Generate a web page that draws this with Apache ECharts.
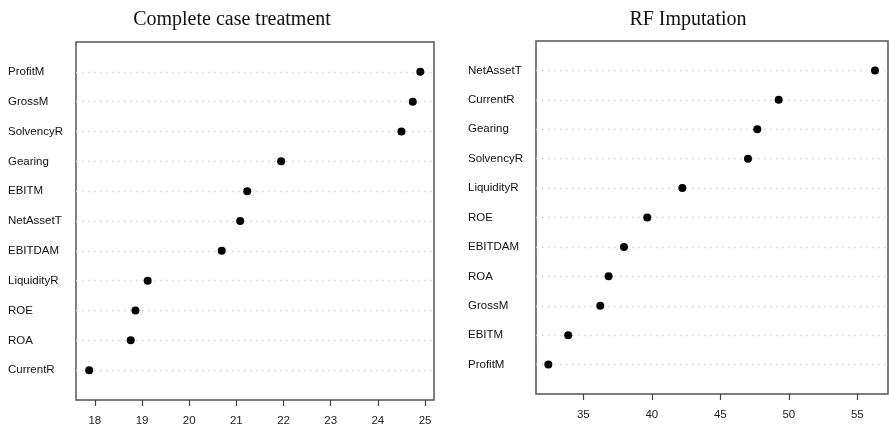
<!DOCTYPE html>
<html>
<head>
<meta charset="utf-8">
<script src="https://cdn.jsdelivr.net/npm/echarts@6/dist/echarts.min.js"></script>
<style>
  html, body { margin: 0; padding: 0; background: #fff; }
  #chart { width: 889px; height: 431px; }
</style>
</head>
<body>
<div id="chart"></div>
<script>
// Complete case treatment (bottom to top)
const ccNames = ['CurrentR', 'ROA', 'ROE', 'LiquidityR', 'EBITDAM', 'NetAssetT', 'EBITM', 'Gearing', 'SolvencyR', 'GrossM', 'ProfitM']
const ccValues = [17.88, 18.76, 18.86, 19.12, 20.69, 21.08, 21.23, 21.95, 24.50, 24.74, 24.90]
const ccTicks = [18, 19, 20, 21, 22, 23, 24, 25]

// RF imputation (bottom to top)
const rfNames = ['ProfitM', 'EBITM', 'GrossM', 'ROA', 'EBITDAM', 'ROE', 'LiquidityR', 'SolvencyR', 'Gearing', 'CurrentR', 'NetAssetT']
const rfValues = [32.45, 33.9, 36.24, 36.85, 37.97, 39.67, 42.23, 47.02, 47.7, 49.26, 56.29]
const rfTicks = [35, 40, 45, 50, 55]

const chart = echarts.init(document.getElementById('chart'))

// pad with blank rows so the dots sit one unit in from the box, like R's dotchart
const padRows = names => [' '].concat(names, ['  '])

const xAxisFor = (gridIndex, min, max, ticks, margin) => ({
  type: 'value',
  gridIndex,
  min,
  max,
  axisLine: { show: false },
  splitLine: { show: false },
  axisTick: { show: true, length: 6, customValues: ticks, lineStyle: { color: '#444', width: 1.2 } },
  axisLabel: { customValues: ticks, margin, color: '#222', fontSize: 11.5, fontFamily: 'Liberation Sans, Arial, sans-serif' }
})

const yAxisFor = (gridIndex, names) => ({
  type: 'category',
  gridIndex,
  data: padRows(names),
  boundaryGap: false,
  axisLine: { show: false },
  axisTick: { show: false },
  axisLabel: {
    margin: 68,
    align: 'left',
    color: '#111',
    fontSize: 11.5,
    fontFamily: 'Liberation Sans, Arial, sans-serif'
  },
  splitLine: {
    show: true,
    interval: (idx, val) => val.trim() !== '',
    lineStyle: { type: [1.5, 4.5], color: '#d4d4d4', width: 1.3 }
  }
})

const titleStyle = { fontFamily: 'Liberation Serif, Times New Roman, serif', fontSize: 20, fontWeight: 'normal', color: '#111' }

const dotSeries = (idx, names, values) => ({
  type: 'scatter',
  xAxisIndex: idx,
  yAxisIndex: idx,
  symbolSize: 8,
  itemStyle: { color: '#000', opacity: 1 },
  data: names.map((n, i) => [values[i], n])
})

chart.setOption({
  animation: false,
  title: [
    { text: 'Complete case treatment', left: 227, top: 5, textAlign: 'center', textStyle: titleStyle },
    { text: 'RF Imputation', left: 683, top: 5, textAlign: 'center', textStyle: titleStyle }
  ],
  grid: [
    { left: 76, right: 455, top: 42, bottom: 31, show: true, borderColor: '#555', borderWidth: 1.5 },
    { left: 536, right: 1, top: 41, bottom: 37, show: true, borderColor: '#555', borderWidth: 1.5 }
  ],
  xAxis: [
    xAxisFor(0, 17.6, 25.19, ccTicks, 15),
    xAxisFor(1, 31.55, 57.24, rfTicks, 15)
  ],
  yAxis: [
    yAxisFor(0, ccNames),
    yAxisFor(1, rfNames)
  ],
  series: [
    dotSeries(0, ccNames, ccValues),
    dotSeries(1, rfNames, rfValues)
  ]
})
</script>
</body>
</html>
